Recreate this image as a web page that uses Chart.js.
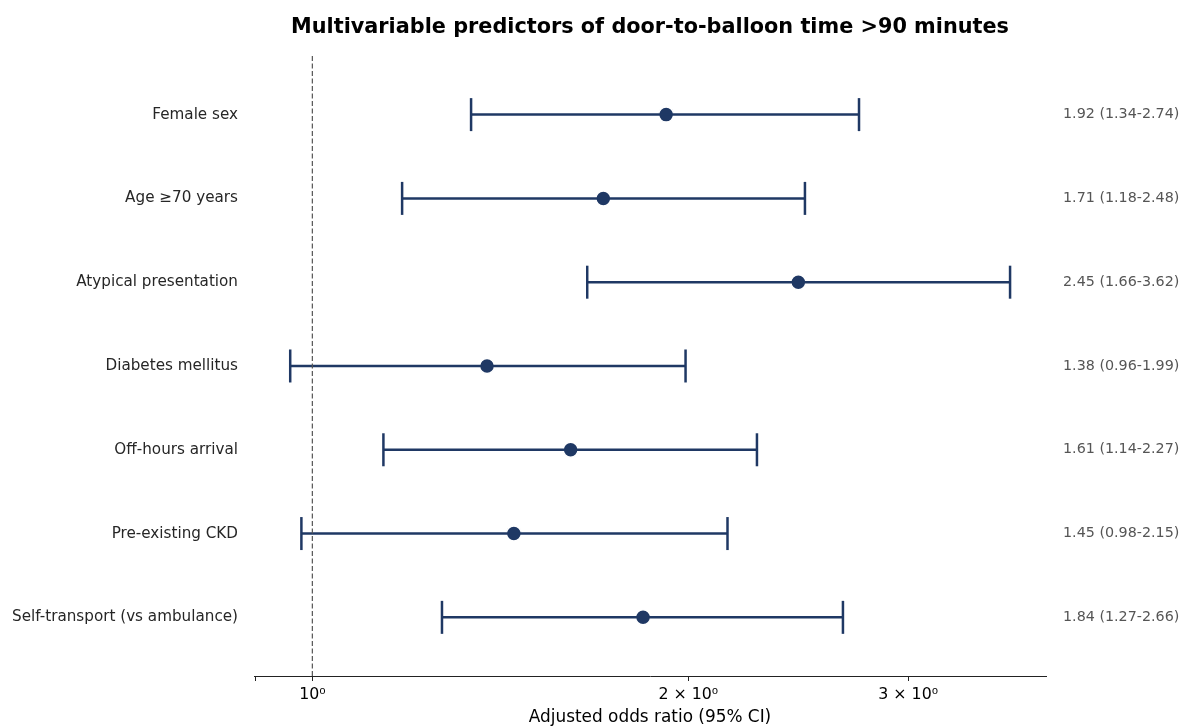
<!DOCTYPE html>
<html>
<head>
<meta charset="utf-8">
<script src="https://cdn.jsdelivr.net/npm/chart.js@4"></script>
<style>
  html, body { margin: 0; padding: 0; background: #fff; }
  #wrap { width: 1180px; height: 727px; }
</style>
</head>
<body>
<div id="wrap"><canvas id="forest"></canvas></div>
<script>
const categories = ['Female sex', 'Age \u226570 years', 'Atypical presentation', 'Diabetes mellitus',
    'Off-hours arrival', 'Pre-existing CKD', 'Self-transport (vs ambulance)'];
const oddsRatios = [1.92, 1.71, 2.45, 1.38, 1.61, 1.45, 1.84];
const ciLower = [1.34, 1.18, 1.66, 0.96, 1.14, 0.98, 1.27];
const ciUpper = [2.74, 2.48, 3.62, 1.99, 2.27, 2.15, 2.66];
const xTicks = [0.9, 1, 2, 3];
const xTickLabels = ['', '10\u2070', '2 \u00d7 10\u2070', '3 \u00d7 10\u2070'];

const navy = '#1f3864';
const font = 'DejaVu Sans';

const annotations = oddsRatios.map((v, i) =>
    v.toFixed(2) + ' (' + ciLower[i].toFixed(2) + '-' + ciUpper[i].toFixed(2) + ')');

// one small line dataset per row for the confidence interval, caps drawn as rotated 'line' points
const ciDatasets = categories.map((c, i) => ({
    label: 'CI ' + c,
    data: [{ x: ciLower[i], y: i }, { x: ciUpper[i], y: i }],
    showLine: true,
    borderColor: navy,
    borderWidth: 2.5,
    pointStyle: 'line',
    rotation: 90,
    pointRadius: 16.5,
    pointBorderColor: navy,
    pointBorderWidth: 2.5
}));

const orPoints = oddsRatios.map((v, i) => ({ x: v, y: i }));

const rowTicks = scale => { scale.ticks = categories.map((c, i) => ({ value: i })); };

new Chart(document.getElementById('forest'), {
    type: 'scatter',
    data: {
        datasets: [
            {
                label: 'ref',
                data: [{ x: 1, y: -0.7 }, { x: 1, y: 6.7 }],
                showLine: true,
                borderColor: '#555555',
                borderWidth: 1.2,
                borderDash: [5, 2.5],
                pointRadius: 0
            },
            ...ciDatasets,
            {
                label: 'OR',
                data: orPoints,
                pointStyle: 'circle',
                pointRadius: 7.5,
                pointBackgroundColor: navy,
                pointBorderColor: '#ffffff',
                pointBorderWidth: 1.5
            }
        ]
    },
    options: {
        responsive: true,
        maintainAspectRatio: false,
        animation: false,
        events: [],
        layout: { padding: 0 },
        plugins: {
            legend: { display: false },
            tooltip: { enabled: false },
            title: {
                display: true,
                fullSize: false,
                text: 'Multivariable predictors of door-to-balloon time >90 minutes',
                color: '#000',
                font: { family: font, size: 20.8, weight: 'bold' },
                padding: { top: 15, bottom: 16 }
            }
        },
        scales: {
            x: {
                type: 'logarithmic',
                min: 0.898,
                max: 3.868,
                afterBuildTicks: scale => { scale.ticks = xTicks.map(v => ({ value: v })); },
                afterFit: scale => { scale.height = 51; },
                ticks: {
                    autoSkip: false,
                    maxRotation: 0,
                    color: '#000',
                    padding: 4,
                    font: { family: font, size: 15.8 },
                    callback: (value, index) => xTickLabels[index]
                },
                grid: { display: true, drawOnChartArea: false, drawTicks: true, tickLength: 5, color: '#222' },
                border: { display: true, color: '#222', width: 1 },
                title: {
                    display: true,
                    text: 'Adjusted odds ratio (95% CI)',
                    color: '#000',
                    font: { family: font, size: 16.9 },
                    padding: { top: 2, bottom: -1 }
                }
            },
            y: {
                type: 'linear',
                position: 'left',
                reverse: true,
                min: -0.7,
                max: 6.7,
                afterBuildTicks: rowTicks,
                afterFit: scale => { scale.width = 254; },
                ticks: {
                    autoSkip: false,
                    color: '#262626',
                    padding: 16,
                    font: { family: font, size: 15.2 },
                    callback: value => categories[value]
                },
                grid: { display: false, drawTicks: false },
                border: { display: false }
            },
            y2: {
                type: 'linear',
                position: 'right',
                reverse: true,
                min: -0.7,
                max: 6.7,
                afterBuildTicks: rowTicks,
                afterFit: scale => { scale.width = 134; },
                ticks: {
                    autoSkip: false,
                    color: '#555555',
                    padding: 17,
                    font: { family: font, size: 14.3 },
                    callback: value => annotations[value]
                },
                grid: { display: false, drawTicks: false },
                border: { display: false }
            }
        }
    }
});
</script>
</body>
</html>
